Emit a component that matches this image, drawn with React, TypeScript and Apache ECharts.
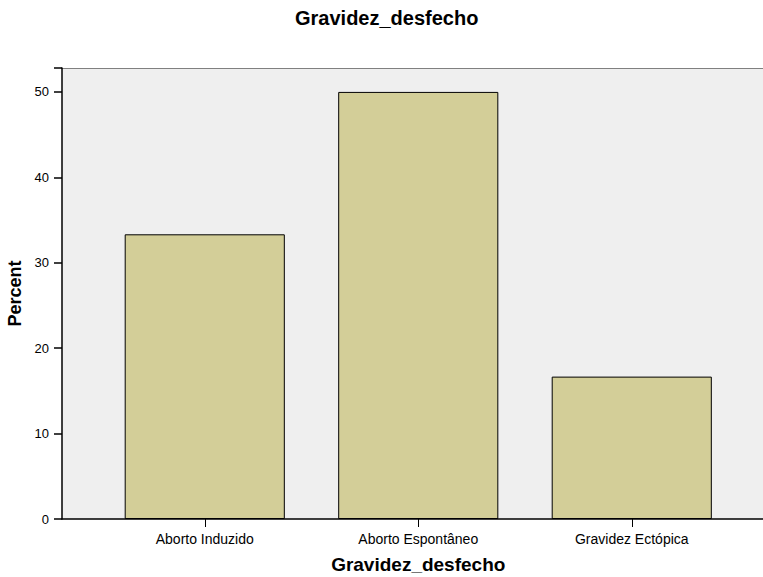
import React, { useEffect, useRef } from "react";
import * as echarts from "echarts";

const categories = ["Aborto Induzido", "Aborto Espontâneo", "Gravidez Ectópica"];
const percents = [33.33, 50.0, 16.67];
const yTicks = [0, 10, 20, 30, 40, 50];
const chartTitle = "Gravidez_desfecho";
const xTitle = "Gravidez_desfecho";
const yTitle = "Percent";

const FONT = "'Liberation Sans', Arial, sans-serif";
const Y_MAX = 52.8;

export default function App() {
  const ref = useRef<HTMLDivElement>(null);
  useEffect(() => {
    if (!ref.current) return;
    const chart = echarts.init(ref.current, undefined, { renderer: "svg" });
    chart.setOption({
      animation: false,
      backgroundColor: "#ffffff",
      textStyle: { fontFamily: FONT },
      title: {
        text: chartTitle,
        left: 295,
        top: 8,
        padding: 0,
        textStyle: { fontFamily: FONT, fontSize: 20, fontWeight: "bold", color: "#000" },
      },
      grid: [
        {
          left: 98, right: 24.5, top: 68, bottom: 58, containLabel: false,
          outerBoundsMode: "none",
        },
        {
          left: 62, right: 0, top: 68, bottom: 58, containLabel: false,
          outerBoundsMode: "none",
          show: true, backgroundColor: "#efefef", borderWidth: 0, z: 0,
        },
      ],
      xAxis: [
        {
          type: "category",
          gridIndex: 0,
          data: categories,
          axisLine: { show: false },
          axisTick: { show: true, alignWithLabel: true, length: 8, lineStyle: { color: "#000", width: 1 } },
          axisLabel: { fontFamily: FONT, fontSize: 14, color: "#000", margin: 13 },
          name: xTitle,
          nameLocation: "middle",
          nameGap: 36,
          nameTextStyle: { fontFamily: FONT, fontSize: 19, fontWeight: "bold", color: "#000" },
          z: 5,
        },
        {
          type: "value",
          gridIndex: 1,
          min: 0,
          max: 1,
          position: "bottom",
          axisLine: { show: true, lineStyle: { color: "#000", width: 1.5 } },
          axisTick: { show: false },
          axisLabel: { show: false },
          splitLine: { show: false },
          z: 6,
        },
        {
          type: "value",
          gridIndex: 1,
          min: 0,
          max: 1,
          position: "top",
          axisLine: { show: true, lineStyle: { color: "#808080", width: 1 } },
          axisTick: { show: false },
          axisLabel: { show: false },
          splitLine: { show: false },
        },
      ],
      yAxis: [
        {
          type: "value",
          gridIndex: 0,
          min: 0,
          max: Y_MAX,
          show: false,
          splitLine: { show: false },
        },
        {
          type: "value",
          gridIndex: 1,
          min: 0,
          max: Y_MAX,
          interval: 10,
          axisLine: { show: true, lineStyle: { color: "#000", width: 1.5 } },
          axisTick: { show: true, length: 8, lineStyle: { color: "#000", width: 1.5 } },
          axisLabel: {
            fontFamily: FONT,
            fontSize: 13,
            color: "#000",
            margin: 13,
            formatter: (v: number) => (yTicks.includes(v) ? String(v) : ""),
          },
          splitLine: { show: false },
          name: yTitle,
          nameLocation: "middle",
          nameGap: 32,
          nameRotate: 90,
          nameTextStyle: { fontFamily: FONT, fontSize: 18, fontWeight: "bold", color: "#000" },
          z: 6,
        },
      ],
      series: [
        {
          type: "bar",
          xAxisIndex: 0,
          yAxisIndex: 0,
          data: percents,
          barWidth: "75%",
          itemStyle: { color: "#d3ce98", borderColor: "#000", borderWidth: 1 },
          z: 3,
        },
      ],
    });
    return () => chart.dispose();
  }, []);
  return (
    <div
      ref={ref}
      style={{ position: "fixed", left: 0, top: 0, width: 763, height: 577 }}
    />
  );
}
